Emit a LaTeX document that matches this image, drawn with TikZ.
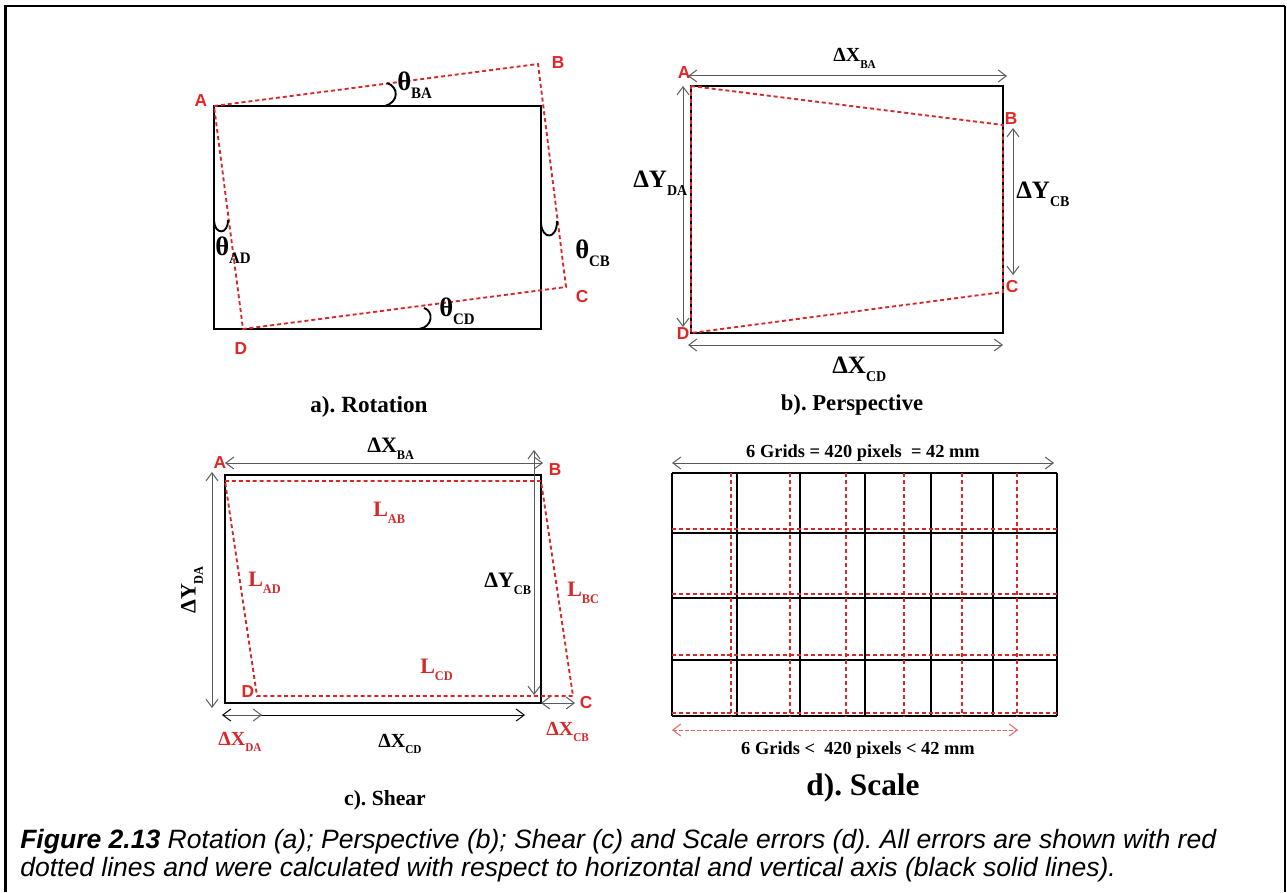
\documentclass[tikz,border=0pt]{standalone}
\usepackage{fontspec}
\setmainfont{Liberation Serif}
\setsansfont{Liberation Sans}
\usepackage{graphicx}
\usetikzlibrary{arrows.meta}
\frenchspacing

\definecolor{errred}{RGB}{214,40,40}
\definecolor{cornerred}{RGB}{226,38,38}
\definecolor{dimgray}{RGB}{90,90,90}
\definecolor{scalered}{RGB}{232,100,100}

\newcommand{\pxfont}[1]{\fontsize{#1}{#1}\selectfont}
\newcommand{\lowsub}[1]{\raisebox{-0.32em}{\scalebox{0.56}[0.6]{#1}}}

\tikzset{
  blackbox/.style={draw=black, line width=1.7pt},
  gridline/.style={draw=black, line width=1.4pt},
  errline/.style={draw=errred, line width=1.4pt, dash pattern=on 3pt off 2.2pt},
  anglearc/.style={draw=black, line width=1.4pt},
  cornerlabel/.style={
    font=\sffamily\bfseries\pxfont{13pt}\color{cornerred}, inner sep=0pt
  },
  thetalabel/.style={font=\bfseries\pxfont{20pt}, inner sep=0pt, anchor=base west},
  dimlabel/.style={font=\bfseries\pxfont{#1}, inner sep=0pt, anchor=base west},
  dimlabel/.default=18.75pt,
  errlabel/.style={
    font=\bfseries\pxfont{#1}\color{errred}, inner sep=0pt, anchor=base west
  },
  errlabel/.default=16.5pt,
  paneltitle/.style={font=\bfseries\pxfont{#1}, inner sep=0pt},
  paneltitle/.default=17pt,
  gridnote/.style={font=\bfseries\pxfont{13.8pt}, inner sep=0pt},
  dimarrow/.style={
    {Straight Barb[length=6pt,width=9pt]}-{Straight Barb[length=6pt,width=9pt]},
    draw=dimgray, line width=0.75pt
  },
  halfarrow/.style={
    -{Straight Barb[length=6pt,width=9pt]},
    draw=dimgray, line width=0.75pt
  },
  scalearrow/.style={
    {Straight Barb[length=6pt,width=9pt]}-{Straight Barb[length=6pt,width=9pt]},
    draw=scalered, line width=0.75pt, dash pattern=on 2.5pt off 2pt
  },
}

\begin{document}
\begin{tikzpicture}[x=0.75pt, y=-0.75pt]

  \useasboundingbox (0,0) rectangle (1287,892);

  %% Outer frame
  \draw[line width=2.2pt] (5.5,892) -- (5.5,6) -- (1285,6);
  \draw[line width=1.2pt] (1285,6) -- (1285,892);

  %% a) Rotation
  \coordinate (rotTL) at (214,106);
  \coordinate (rotBR) at (541,329);
  \coordinate (rotA) at (214,106);
  \coordinate (rotB) at (538,64);
  \coordinate (rotC) at (566,287);
  \coordinate (rotD) at (243,329);
  \draw[blackbox] (rotTL) rectangle (rotBR);
  \draw[errline] (rotA) -- (rotB) -- (rotC) -- (rotD) -- cycle;

  % angle marks
  \draw[anglearc] (385,106) .. controls (399,102) and (399,87) .. (387,83);
  \draw[anglearc] (214,221) .. controls (215,235) and (228,235) .. (228,220);
  \draw[anglearc] (541,223) .. controls (542,240) and (557,240) .. (557,221);
  \draw[anglearc] (419,329) .. controls (433,327) and (434,311) .. (424,308);

  \node[cornerlabel] (rotlA) at (201,101) {A};
  \node[cornerlabel] (rotlB) at (558,63) {B};
  \node[cornerlabel] (rotlC) at (582,297) {C};
  \node[cornerlabel] (rotlD) at (241,349) {D};

  \node[thetalabel] (thBA) at (397,90) {θ\lowsub{BA}};
  \node[thetalabel] (thAD) at (215,255) {θ\lowsub{AD}};
  \node[thetalabel] (thCB) at (575,258) {θ\lowsub{CB}};
  \node[thetalabel] (thCD) at (439,316) {θ\lowsub{CD}};

  \node[paneltitle=17.4pt] (rottitle) at (369,407) {a). Rotation};

  %% b) Perspective
  \coordinate (perTL) at (691,86);
  \coordinate (perBR) at (1003,333);
  \coordinate (perA) at (691,86);
  \coordinate (perB) at (1003,125);
  \coordinate (perC) at (1003,292);
  \coordinate (perD) at (691,333);
  \draw[blackbox] (perTL) rectangle (perBR);
  \draw[errline] (perA) -- (perB) -- (perC) -- (perD) -- cycle;

  \draw[dimarrow] (688,76) -- (1007,76);
  \draw[dimarrow] (683,86) -- (683,327);
  \draw[dimarrow] (1013,128) -- (1013,275);
  \draw[dimarrow] (688,345) -- (1003,345);

  \node[cornerlabel] (perlA) at (684,73) {A};
  \node[cornerlabel] (perlB) at (1011,119) {B};
  \node[cornerlabel] (perlC) at (1012,287) {C};
  \node[cornerlabel] (perlD) at (683,334) {D};

  \node[dimlabel=15pt] (perXBA) at (833,62) {ΔX\lowsub{BA}};
  \node[dimlabel] (perYDA) at (633,187) {ΔY\lowsub{DA}};
  \node[dimlabel] (perYCB) at (1016,198) {ΔY\lowsub{CB}};
  \node[dimlabel] (perXCD) at (832,373) {ΔX\lowsub{CD}};

  \node[paneltitle] (pertitle) at (852,405) {b). Perspective};

  %% c) Shear
  \coordinate (shTL) at (225,475);
  \coordinate (shBR) at (541,703);
  \coordinate (shA) at (225,481);
  \coordinate (shB) at (541,481);
  \coordinate (shC) at (573,696);
  \coordinate (shD) at (257,696);
  \draw[blackbox] (shTL) rectangle (shBR);
  \draw[errline] (shA) -- (shB) -- (shC) -- (shD) -- cycle;

  \draw[dimarrow] (225,463) -- (543,463);
  \draw[dimarrow] (212,472) -- (212,708);
  \draw[dimarrow] (534,450) -- (534,695);
  \draw[dimarrow, draw=black] (222,715) -- (525,715);
  \draw[halfarrow] (225,715) -- (262,715);
  \draw[dimarrow] (541,703) -- (575,703);

  \node[cornerlabel] (shlA) at (220,463) {A};
  \node[cornerlabel] (shlB) at (555,470) {B};
  \node[cornerlabel] (shlC) at (586,703) {C};
  \node[cornerlabel] (shlD) at (248,692) {D};

  \node[errlabel] (LAB) at (373,516) {L\lowsub{AB}};
  \node[errlabel] (LAD) at (248,586) {L\lowsub{AD}};
  \node[errlabel] (LBC) at (567,596) {L\lowsub{BC}};
  \node[errlabel] (LCD) at (420,673) {L\lowsub{CD}};

  \node[dimlabel=16.5pt] (shXBA) at (367,452) {ΔX\lowsub{BA}};
  \node[dimlabel=16.5pt, anchor=center, rotate=90] (shYDA) at (192,590) {ΔY\lowsub{DA}};
  \node[dimlabel=16.5pt] (shYCB) at (484,587) {ΔY\lowsub{CB}};
  \node[dimlabel=15pt] (shXCD) at (378,747) {ΔX\lowsub{CD}};
  \node[errlabel=15pt] (shXDA) at (218,745) {ΔX\lowsub{DA}};
  \node[errlabel=15pt] (shXCB) at (546,735) {ΔX\lowsub{CB}};

  \node[paneltitle=16.2pt] (shtitle) at (385,800) {c). Shear};

  %% d) Scale
  \foreach \gx in {672,737,800,865,931,993,1057}
    \draw[gridline] (\gx,473) -- (\gx,716);
  \foreach \gy in {473,533,598,660,716}
    \draw[gridline] (672,\gy) -- (1057,\gy);
  \foreach \rx in {731,790,846,904,962,1017}
    \draw[errline] (\rx,473) -- (\rx,716);
  \foreach \ry in {529,594,655,713}
    \draw[errline] (672,\ry) -- (1057,\ry);

  \coordinate (scTopL) at (672,463);
  \coordinate (scTopR) at (1054,463);
  \coordinate (scBotL) at (672,730);
  \coordinate (scBotR) at (1018,730);
  \draw[dimarrow] (scTopL) -- (scTopR);
  \draw[scalearrow] (scBotL) -- (scBotR);

  \node[gridnote] (scnoteA) at (863,453) {6 Grids = 420 pixels \ = 42 mm};
  \node[gridnote] (scnoteB) at (858,750) {6 Grids < \ 420 pixels < 42 mm};

  \node[paneltitle=23.5pt] (sctitle) at (863,788) {d). Scale};

  %% Caption
  \node[anchor=base west, inner sep=0pt, align=left,
    font=\sffamily\itshape\fontsize{19.9pt}{21pt}\selectfont] (cap) at (20,876)
    {\textbf{Figure 2.13} Rotation (a); Perspective (b); Shear (c) and Scale errors (d). All errors are shown with red\\
     dotted lines and were calculated with respect to horizontal and vertical axis (black solid lines).};

\end{tikzpicture}
\end{document}
